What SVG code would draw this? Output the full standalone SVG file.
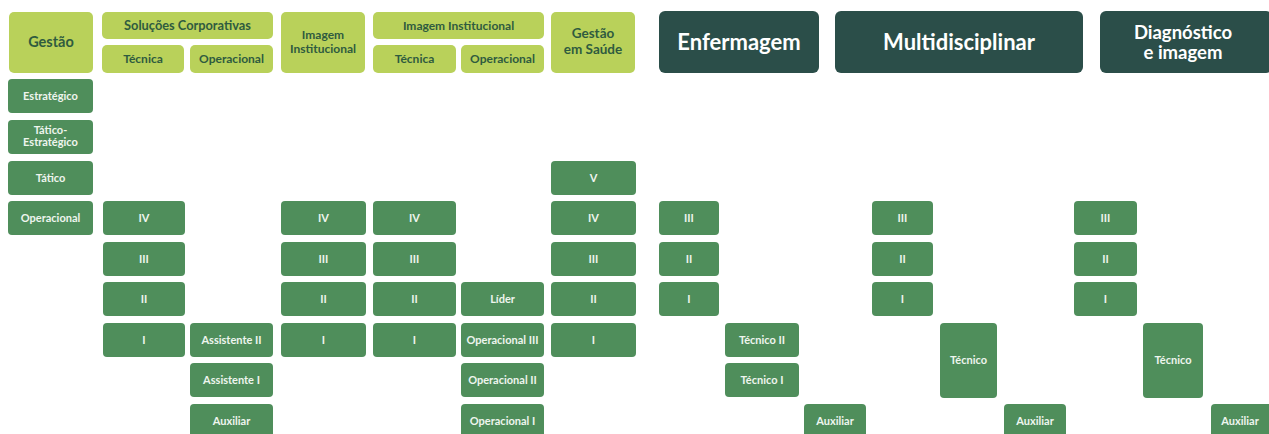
<svg xmlns="http://www.w3.org/2000/svg" width="1269" height="434" viewBox="0 0 1269 434">
<style>
.h rect{fill:#b9d15a}
.h text{fill:#2f5b3f;font-family:Lato,"Open Sans",sans-serif;font-weight:700;text-anchor:middle}
.d rect{fill:#2b4e49}
.d text{fill:#ffffff;font-family:Lato,"Open Sans",sans-serif;font-weight:700;text-anchor:middle}
.n rect{fill:#4f8e5b}
.n text{fill:#eef5ee;font-family:Lato,"Open Sans",sans-serif;font-weight:700;font-size:11px;text-anchor:middle}
</style>
<rect width="1269" height="434" fill="#ffffff"/>
<!-- headers -->
<g class="h" id="h-gestao"><rect x="9" y="12" width="84" height="61" rx="5"/><text x="51" y="47" font-size="14.5">Gestão</text></g>
<g class="h" id="h-solucoes"><rect x="102" y="12" width="171" height="27" rx="5"/><text x="187.5" y="30" font-size="12.8">Soluções Corporativas</text></g>
<g class="h" id="h-sc-tecnica"><rect x="102" y="45" width="82" height="28" rx="5"/><text x="143" y="63" font-size="12">Técnica</text></g>
<g class="h" id="h-sc-operacional"><rect x="190" y="45" width="83" height="28" rx="5"/><text x="231.5" y="63" font-size="12">Operacional</text></g>
<g class="h" id="h-imagem"><rect x="281" y="12" width="84" height="61" rx="5"/><text x="323" y="39" font-size="12">Imagem</text><text x="323" y="53" font-size="12">Institucional</text></g>
<g class="h" id="h-imagem-inst"><rect x="373" y="12" width="171" height="27" rx="5"/><text x="458.5" y="30" font-size="12">Imagem Institucional</text></g>
<g class="h" id="h-ii-tecnica"><rect x="373" y="45" width="83" height="28" rx="5"/><text x="414.5" y="63" font-size="12">Técnica</text></g>
<g class="h" id="h-ii-operacional"><rect x="461" y="45" width="83" height="28" rx="5"/><text x="502.5" y="63" font-size="12">Operacional</text></g>
<g class="h" id="h-gestao-saude"><rect x="551" y="12" width="84" height="61" rx="5"/><text x="593" y="38" font-size="13.5">Gestão</text><text x="593" y="54" font-size="13.5">em Saúde</text></g>
<g class="d" id="h-enfermagem"><rect x="659" y="11" width="160" height="62" rx="6"/><text x="739" y="50" font-size="22">Enfermagem</text></g>
<g class="d" id="h-multi"><rect x="835" y="11" width="248" height="62" rx="6"/><text x="959" y="50" font-size="22">Multidisciplinar</text></g>
<g class="d" id="h-diag"><rect x="1100" y="11" width="172" height="62" rx="6"/><text x="1183" y="39" font-size="18.5">Diagnóstico</text><text x="1183" y="59" font-size="18.5">e imagem</text></g>
<!-- Gestão column -->
<g class="n" id="n-estrategico"><rect x="8" y="79" width="85" height="34" rx="4"/><text x="50.5" y="100">Estratégico</text></g>
<g class="n" id="n-tatico-estrategico"><rect x="8" y="120" width="85" height="34" rx="4"/><text x="50.5" y="134" font-size="10.5">Tático-</text><text x="50.5" y="146" font-size="10.5">Estratégico</text></g>
<g class="n" id="n-tatico"><rect x="8" y="161" width="85" height="34" rx="4"/><text x="50.5" y="182">Tático</text></g>
<g class="n" id="n-operacional"><rect x="8" y="201" width="85" height="34" rx="4"/><text x="50.5" y="222">Operacional</text></g>
<!-- SC Técnica -->
<g class="n" id="sc-t-iv"><rect x="103" y="201" width="82" height="34" rx="4"/><text x="144" y="222">IV</text></g>
<g class="n" id="sc-t-iii"><rect x="103" y="242" width="82" height="34" rx="4"/><text x="144" y="263">III</text></g>
<g class="n" id="sc-t-ii"><rect x="103" y="282" width="82" height="34" rx="4"/><text x="144" y="303">II</text></g>
<g class="n" id="sc-t-i"><rect x="103" y="323" width="82" height="34" rx="4"/><text x="144" y="344">I</text></g>
<!-- SC Operacional -->
<g class="n" id="sc-o-ass2"><rect x="190" y="323" width="83" height="34" rx="4"/><text x="231.5" y="344">Assistente II</text></g>
<g class="n" id="sc-o-ass1"><rect x="190" y="363" width="83" height="34" rx="4"/><text x="231.5" y="384">Assistente I</text></g>
<g class="n" id="sc-o-aux"><rect x="190" y="404" width="83" height="34" rx="4"/><text x="231.5" y="425">Auxiliar</text></g>
<!-- Imagem Institucional -->
<g class="n" id="im-iv"><rect x="281" y="201" width="85" height="34" rx="4"/><text x="323.5" y="222">IV</text></g>
<g class="n" id="im-iii"><rect x="281" y="242" width="85" height="34" rx="4"/><text x="323.5" y="263">III</text></g>
<g class="n" id="im-ii"><rect x="281" y="282" width="85" height="34" rx="4"/><text x="323.5" y="303">II</text></g>
<g class="n" id="im-i"><rect x="281" y="323" width="85" height="34" rx="4"/><text x="323.5" y="344">I</text></g>
<!-- II Técnica -->
<g class="n" id="ii-t-iv"><rect x="373" y="201" width="83" height="34" rx="4"/><text x="414.5" y="222">IV</text></g>
<g class="n" id="ii-t-iii"><rect x="373" y="242" width="83" height="34" rx="4"/><text x="414.5" y="263">III</text></g>
<g class="n" id="ii-t-ii"><rect x="373" y="282" width="83" height="34" rx="4"/><text x="414.5" y="303">II</text></g>
<g class="n" id="ii-t-i"><rect x="373" y="323" width="83" height="34" rx="4"/><text x="414.5" y="344">I</text></g>
<!-- II Operacional -->
<g class="n" id="ii-o-lider"><rect x="461" y="282" width="83" height="34" rx="4"/><text x="502.5" y="303">Líder</text></g>
<g class="n" id="ii-o-op3"><rect x="461" y="323" width="83" height="34" rx="4"/><text x="502.5" y="344">Operacional III</text></g>
<g class="n" id="ii-o-op2"><rect x="461" y="363" width="83" height="34" rx="4"/><text x="502.5" y="384">Operacional II</text></g>
<g class="n" id="ii-o-op1"><rect x="461" y="404" width="83" height="34" rx="4"/><text x="502.5" y="425">Operacional I</text></g>
<!-- Gestão em Saúde -->
<g class="n" id="gs-v"><rect x="551" y="161" width="85" height="34" rx="4"/><text x="593.5" y="182">V</text></g>
<g class="n" id="gs-iv"><rect x="551" y="201" width="85" height="34" rx="4"/><text x="593.5" y="222">IV</text></g>
<g class="n" id="gs-iii"><rect x="551" y="242" width="85" height="34" rx="4"/><text x="593.5" y="263">III</text></g>
<g class="n" id="gs-ii"><rect x="551" y="282" width="85" height="34" rx="4"/><text x="593.5" y="303">II</text></g>
<g class="n" id="gs-i"><rect x="551" y="323" width="85" height="34" rx="4"/><text x="593.5" y="344">I</text></g>
<!-- Enfermagem -->
<g class="n" id="en-iii"><rect x="659" y="201" width="60" height="34" rx="4"/><text x="689" y="222">III</text></g>
<g class="n" id="en-ii"><rect x="659" y="242" width="60" height="34" rx="4"/><text x="689" y="263">II</text></g>
<g class="n" id="en-i"><rect x="659" y="282" width="60" height="34" rx="4"/><text x="689" y="303">I</text></g>
<g class="n" id="en-tec2"><rect x="725" y="323" width="74" height="34" rx="4"/><text x="762" y="344">Técnico II</text></g>
<g class="n" id="en-tec1"><rect x="725" y="363" width="74" height="34" rx="4"/><text x="762" y="384">Técnico I</text></g>
<g class="n" id="en-aux"><rect x="804" y="404" width="62" height="34" rx="4"/><text x="835" y="425">Auxiliar</text></g>
<!-- Multidisciplinar -->
<g class="n" id="mu-iii"><rect x="872" y="201" width="61" height="34" rx="4"/><text x="902.5" y="222">III</text></g>
<g class="n" id="mu-ii"><rect x="872" y="242" width="61" height="34" rx="4"/><text x="902.5" y="263">II</text></g>
<g class="n" id="mu-i"><rect x="872" y="282" width="61" height="34" rx="4"/><text x="902.5" y="303">I</text></g>
<g class="n" id="mu-tec"><rect x="940" y="323" width="57" height="75" rx="4"/><text x="968.5" y="364">Técnico</text></g>
<g class="n" id="mu-aux"><rect x="1004" y="404" width="62" height="34" rx="4"/><text x="1035" y="425">Auxiliar</text></g>
<!-- Diagnóstico e imagem -->
<g class="n" id="di-iii"><rect x="1074" y="201" width="63" height="34" rx="4"/><text x="1105.5" y="222">III</text></g>
<g class="n" id="di-ii"><rect x="1074" y="242" width="63" height="34" rx="4"/><text x="1105.5" y="263">II</text></g>
<g class="n" id="di-i"><rect x="1074" y="282" width="63" height="34" rx="4"/><text x="1105.5" y="303">I</text></g>
<g class="n" id="di-tec"><rect x="1143" y="323" width="60" height="75" rx="4"/><text x="1173" y="364">Técnico</text></g>
<g class="n" id="di-aux"><rect x="1211" y="404" width="62" height="34" rx="4"/><text x="1240" y="425">Auxiliar</text></g>
</svg>
